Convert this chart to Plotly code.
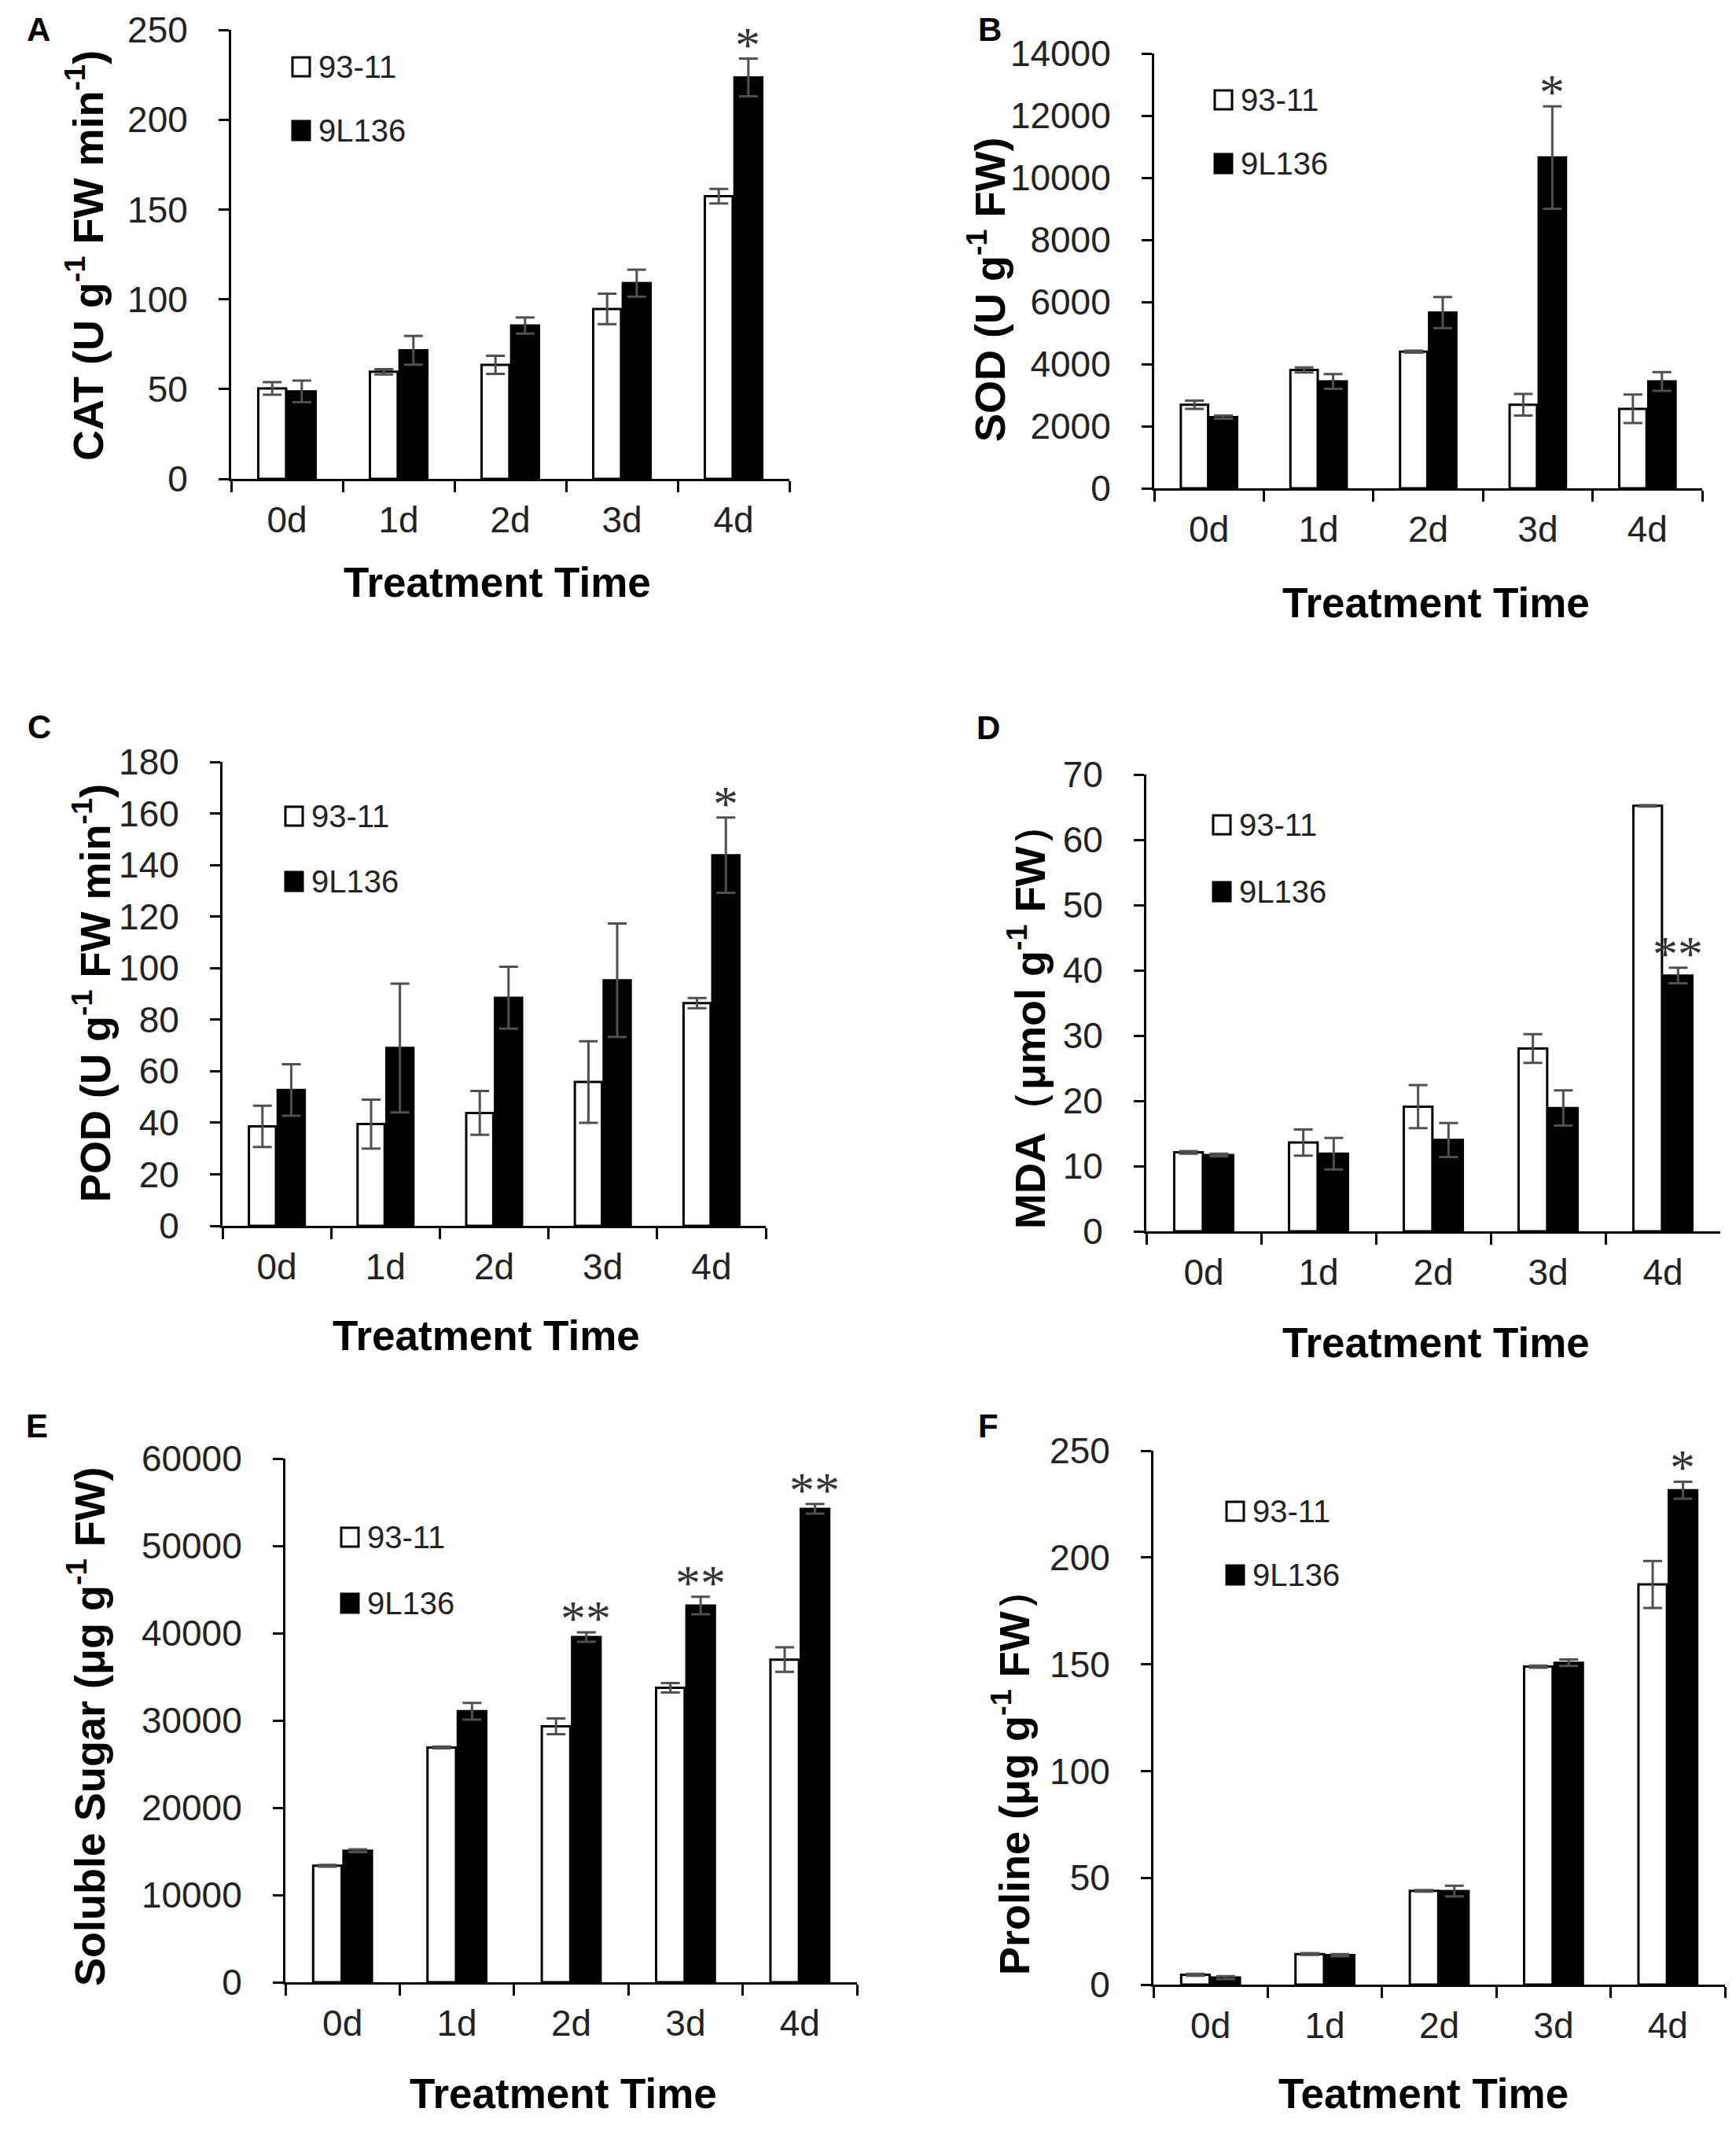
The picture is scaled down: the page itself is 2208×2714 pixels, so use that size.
import plotly.graph_objects as go

# 처리 일수 (x축 범주)
days = ['0d', '1d', '2d', '3d', '4d']
names = ['93-11', '9L136']

# A: CAT
cat_9311 = [50.3, 59.6, 63.5, 94.6, 157.4]
cat_9311_err = [3.5, 1.5, 5.0, 8.5, 4.0]
cat_9l136 = [48.7, 71.6, 85.4, 109.0, 223.5]
cat_9l136_err = [6.0, 8.0, 4.5, 7.5, 10.5]
cat_sig = ['', '', '', '', '*']

# B: SOD
sod_9311 = [2690, 3810, 4400, 2690, 2560]
sod_9311_err = [130, 80, 30, 350, 460]
sod_9l136 = [2290, 3440, 5660, 10650, 3440]
sod_9l136_err = [50, 240, 500, 1650, 300]
sod_sig = ['', '', '', '*', '']

# C: POD
pod_9311 = [38.6, 39.5, 43.8, 55.8, 86.4]
pod_9311_err = [8.0, 9.5, 8.5, 15.8, 2.0]
pod_9l136 = [52.7, 69.0, 88.5, 95.3, 143.8]
pod_9l136_err = [10.0, 25.0, 12.0, 22.0, 14.6]
pod_sig = ['', '', '', '', '*']

# D: MDA
mda_9311 = [12.1, 13.6, 19.1, 28.0, 65.2]
mda_9311_err = [0.2, 2.0, 3.3, 2.2, 0.1]
mda_9l136 = [11.7, 11.9, 14.0, 18.9, 39.2]
mda_9l136_err = [0.2, 2.4, 2.6, 2.7, 1.2]
mda_sig = ['', '', '', '', '**']

# E: soluble sugar
sugar_9311 = [13350, 26900, 29330, 33740, 36970]
sugar_9311_err = [100, 100, 900, 550, 1400]
sugar_9l136 = [15070, 31050, 39550, 43160, 54240]
sugar_9l136_err = [150, 950, 550, 1000, 550]
sugar_sig = ['', '', '**', '**', '**']

# F: proline
pro_9311 = [4.6, 14.3, 43.9, 148.9, 187.4]
pro_9311_err = [0.5, 0.4, 0.4, 0.5, 11.0]
pro_9l136 = [3.3, 13.8, 43.8, 150.7, 231.5]
pro_9l136_err = [0.7, 0.5, 2.5, 1.5, 4.0]
pro_sig = ['', '', '', '', '*']

W, H = 2208, 2714
FONT = 'Liberation Sans, Arial, sans-serif'


def px(x):
    return x / W


def py(y):
    return 1 - y / H


# 패널별 배치 (픽셀 단위: 축 좌/우/위/아래, 제목 위치, 범례 위치)
panels = [
    dict(letter='A', white=cat_9311, white_err=cat_9311_err, black=cat_9l136, black_err=cat_9l136_err,
         sig=cat_sig, ymax=250, dtick=50,
         ytitle='CAT (U g<sup>-1</sup> FW min<sup>-1</sup>)', xtitle='Treatment Time',
         box=(294, 1004, 38, 609), lab=(49, 38), yt=(108, 325), xt=(632, 741),
         leg=(383, 85, 166)),
    dict(letter='B', white=sod_9311, white_err=sod_9311_err, black=sod_9l136, black_err=sod_9l136_err,
         sig=sod_sig, ymax=14000, dtick=2000,
         ytitle='SOD (U g<sup>-1</sup> FW)', xtitle='Treatment Time',
         box=(1468, 2165, 68, 621), lab=(1259, 38), yt=(1255, 368), xt=(1826, 767),
         leg=(1556, 127, 208)),
    dict(letter='C', white=pod_9311, white_err=pod_9311_err, black=pod_9l136, black_err=pod_9l136_err,
         sig=pod_sig, ymax=180, dtick=20,
         ytitle='POD (U g<sup>-1</sup> FW min<sup>-1</sup>)', xtitle='Treatment Time',
         box=(283, 974, 969, 1559), lab=(50, 924), yt=(117, 1263), xt=(618, 1698),
         leg=(374, 1038, 1121)),
    dict(letter='D', white=mda_9311, white_err=mda_9311_err, black=mda_9l136, black_err=mda_9l136_err,
         sig=mda_sig, ymax=70, dtick=10,
         ytitle='MDA（μmol g<sup>-1</sup> FW）', xtitle='Treatment Time',
         box=(1458, 2188, 985, 1566), lab=(1257, 926), yt=(1306, 1293), xt=(1826, 1707),
         leg=(1554, 1049, 1134)),
    dict(letter='E', white=sugar_9311, white_err=sugar_9311_err, black=sugar_9l136, black_err=sugar_9l136_err,
         sig=sugar_sig, ymax=60000, dtick=10000,
         ytitle='Soluble Sugar (μg g<sup>-1</sup> FW)', xtitle='Treatment Time',
         box=(363, 1090, 1855, 2521), lab=(47, 1813), yt=(110, 2196), xt=(716, 2662),
         leg=(445, 1955, 2039)),
    dict(letter='F', white=pro_9311, white_err=pro_9311_err, black=pro_9l136, black_err=pro_9l136_err,
         sig=pro_sig, ymax=250, dtick=50,
         ytitle='Proline (μg g<sup>-1</sup> FW）', xtitle='Teatment Time',
         box=(1467, 2194, 1845, 2524), lab=(1257, 1813), yt=(1286, 2254), xt=(1810, 2662),
         leg=(1571, 1922, 2003)),
]

fig = go.Figure()
annotations = []
shapes = []


def paper_text(x, y, text, size, angle=0, anchor='center', color='black'):
    return dict(x=px(x), y=py(y), xref='paper', yref='paper', text=text, showarrow=False,
                xanchor=anchor, yanchor='middle', textangle=angle,
                font=dict(family=FONT, size=size, color=color))


for i, p in enumerate(panels):
    n = '' if i == 0 else str(i + 1)
    xa, ya = 'x' + n, 'y' + n
    err_style = dict(type='data', color='#505050', thickness=3, width=12)
    fig.add_trace(go.Bar(x=days, y=p['white'], name=names[0], xaxis=xa, yaxis=ya,
                         marker=dict(color='white', line=dict(color='black', width=3)),
                         error_y=dict(array=p['white_err'], **err_style), showlegend=False))
    fig.add_trace(go.Bar(x=days, y=p['black'], name=names[1], xaxis=xa, yaxis=ya,
                         marker=dict(color='black', line=dict(color='black', width=3)),
                         error_y=dict(array=p['black_err'], **err_style), showlegend=False))

    left, right, top, bottom = p['box']
    axis_common = dict(showline=True, linecolor='black', linewidth=3, ticks='outside',
                       tickcolor='black', tickwidth=3, showgrid=False, zeroline=False,
                       automargin=False,
                       tickfont=dict(family=FONT, size=46, color='#222222'))
    fig.update_layout(**{
        'xaxis' + n: dict(domain=[px(left), px(right)], anchor=ya, type='category',
                          range=[-0.5, 4.5], tickson='boundaries', ticklen=14,
                          ticklabelstandoff=10, **axis_common),
        'yaxis' + n: dict(domain=[py(bottom), py(top)], anchor=xa, range=[0, p['ymax']],
                          dtick=p['dtick'], tickformat='d', ticklen=13,
                          ticklabelstandoff=30, **axis_common),
    })

    # 유의성 별표 (9L136 막대 위)
    for j, s in enumerate(p['sig']):
        if s:
            annotations.append(dict(x=j + 0.13, y=p['black'][j] + p['black_err'][j], xref=xa, yref=ya,
                                    text=s, showarrow=False, xanchor='center', yanchor='bottom',
                                    yshift=-20,
                                    font=dict(family='Liberation Serif, serif', size=64, color='#333333')))

    annotations.append(paper_text(p['lab'][0], p['lab'][1], '<b>' + p['letter'] + '</b>', 42))
    annotations.append(paper_text(p['yt'][0], p['yt'][1], '<b>' + p['ytitle'] + '</b>', 54, angle=-90))
    annotations.append(paper_text(p['xt'][0], p['xt'][1], '<b>' + p['xtitle'] + '</b>', 53))

    # 범례 (네모 + 글자)
    lx, ly1, ly2 = p['leg']
    for ly, fill, label in [(ly1, 'white', names[0]), (ly2, 'black', names[1])]:
        shapes.append(dict(type='rect', xref='paper', yref='paper',
                           x0=px(lx - 11), x1=px(lx + 11), y0=py(ly + 12), y1=py(ly - 12),
                           fillcolor=fill, line=dict(color='black', width=3)))
        annotations.append(paper_text(lx + 20, ly, label, 40, anchor='left', color='#222222'))

fig.update_layout(width=W, height=H, margin=dict(l=0, r=0, t=0, b=0, autoexpand=False),
                  paper_bgcolor='white', plot_bgcolor='white',
                  barmode='group', bargap=0.47, bargroupgap=0.06,
                  annotations=annotations, shapes=shapes, showlegend=False)

# body 기본 여백 제거, 툴바 숨김
fig.write_html('out.html', config={'displayModeBar': False},
               post_script="document.body.style.margin='0';")
